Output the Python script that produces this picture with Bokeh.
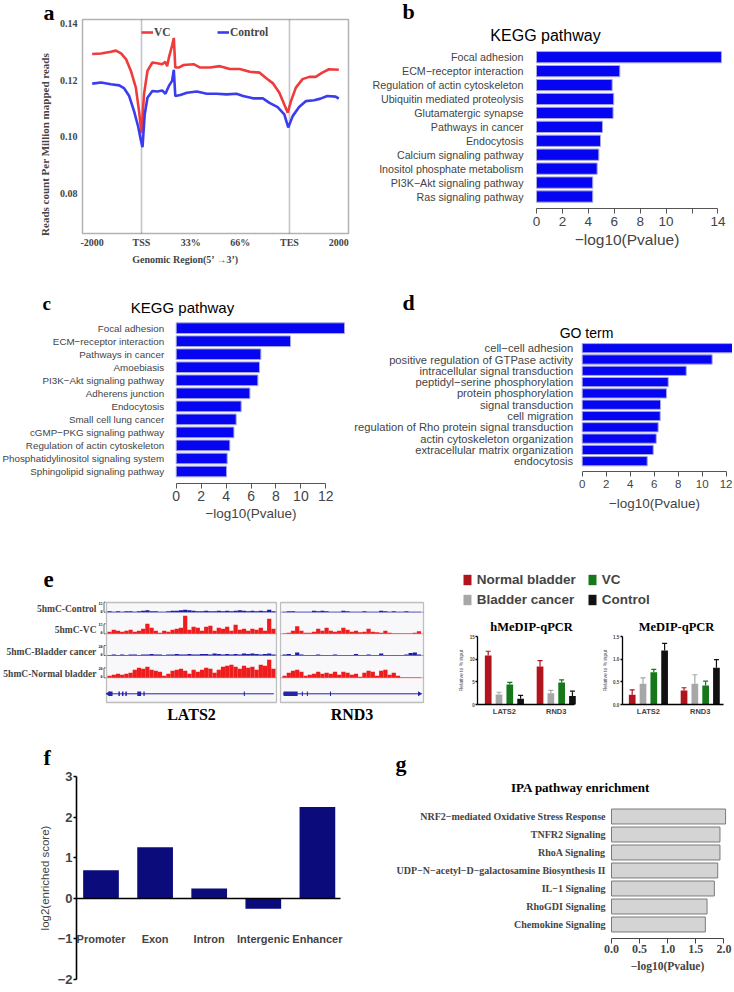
import numpy as np
from bokeh.plotting import figure
from bokeh.models import (Range1d, FixedTicker, Label, Legend, LegendItem, LinearAxis,
                          Whisker, TeeHead, ColumnDataSource, PrintfTickFormatter,
                          BoxAnnotation, Grid)
from bokeh.layouts import row, column
from bokeh.embed import file_html
from bokeh.resources import INLINE

SERIF = "Liberation Serif"
SANS = "Liberation Sans"

# ---------------- data ----------------
# (a) metagene profile
A_TICK_POS = [0, 20, 40, 60, 80, 100]
A_TICK_LABELS = ["-2000", "TSS", "33%", "66%", "TES", "2000"]
A_VC_X = [0, 3.6, 7.6, 9.6, 11.7, 13.7, 15.7, 17.7, 19.0, 20.0, 21.0, 22.4, 24.4, 26.4, 28.4,
          29.7, 30.4, 31.1, 32.4, 33.1, 33.7, 35.1, 37.1, 41.1, 43.8, 47.8, 51.8, 55.8, 59.8,
          63.9, 67.9, 70.6, 73.2, 75.9, 77.9, 79.3, 80.6, 82.6, 85.3, 88.0, 90.6, 93.3, 96.0, 100]
A_VC_Y = [0.1293, 0.1295, 0.1301, 0.1305, 0.1295, 0.1275, 0.1233, 0.1174, 0.1090, 0.1013,
          0.1150, 0.1233, 0.1263, 0.1260, 0.1257, 0.1265, 0.1250, 0.1280, 0.1323, 0.1350,
          0.1245, 0.1245, 0.1254, 0.1257, 0.1245, 0.1245, 0.1250, 0.1240, 0.1240, 0.1230,
          0.1227, 0.1207, 0.1190, 0.1156, 0.1114, 0.1085, 0.1126, 0.1174, 0.1204, 0.1212,
          0.1212, 0.1227, 0.1239, 0.1237]
A_CT_X = [0, 3.6, 7.6, 11.0, 13.0, 15.0, 17.0, 18.6, 19.7, 20.4, 21.3, 22.4, 24.4, 26.4, 28.4,
          29.7, 31.1, 32.4, 33.1, 33.7, 35.7, 38.4, 42.4, 46.5, 50.5, 54.5, 58.5, 61.2, 65.2,
          69.2, 71.9, 75.2, 77.9, 79.5, 81.3, 83.9, 86.6, 90.0, 92.6, 95.3, 98.7, 100]
A_CT_Y = [0.1188, 0.1192, 0.1186, 0.1182, 0.1171, 0.1144, 0.1090, 0.1037, 0.0989, 0.0963,
          0.1079, 0.1138, 0.1162, 0.1160, 0.1164, 0.1152, 0.1180, 0.1198, 0.1237, 0.1144,
          0.1148, 0.1156, 0.1160, 0.1152, 0.1152, 0.1150, 0.1152, 0.1144, 0.1136, 0.1136,
          0.1120, 0.1105, 0.1079, 0.1033, 0.1073, 0.1105, 0.1126, 0.1129, 0.1135, 0.1144,
          0.1142, 0.1135]
A_Y_TICKS = [0.08, 0.10, 0.12, 0.14]

# (b) KEGG
B_TERMS = ["Focal adhesion", "ECM\u2212receptor interaction", "Regulation of actin cytoskeleton",
           "Ubiquitin mediated proteolysis", "Glutamatergic synapse", "Pathways in cancer",
           "Endocytosis", "Calcium signaling pathway", "Inositol phosphate metabolism",
           "PI3K\u2212Akt signaling pathway", "Ras signaling pathway"]
B_VALUES = [14.27, 6.43, 5.84, 5.96, 5.91, 5.09, 4.94, 4.81, 4.68, 4.34, 4.34]
B_TICKS = [0, 2, 4, 6, 8, 10, 12, 14]

# (c) KEGG
C_TERMS = ["Focal adhesion", "ECM\u2212receptor interaction", "Pathways in cancer", "Amoebiasis",
           "PI3K\u2212Akt signaling pathway", "Adherens junction", "Endocytosis",
           "Small cell lung cancer", "cGMP\u2212PKG signaling pathway",
           "Regulation of actin cytoskeleton", "Phosphatidylinositol signaling system",
           "Sphingolipid signaling pathway"]
C_VALUES = [13.5, 9.17, 6.79, 6.68, 6.55, 5.91, 5.21, 4.81, 4.63, 4.30, 4.09, 4.04]
C_TICKS = [0, 2, 4, 6, 8, 10, 12]

# (d) GO
D_TERMS = ["cell\u2212cell adhesion", "positive regulation of GTPase activity",
           "intracellular signal transduction", "peptidyl\u2212serine phosphorylation",
           "protein phosphorylation", "signal transduction", "cell migration",
           "regulation of Rho protein signal transduction", "actin cytoskeleton organization",
           "extracellular matrix organization", "endocytosis"]
D_VALUES = [12.56, 10.83, 8.67, 7.17, 7.03, 6.53, 6.50, 6.33, 6.17, 5.92, 5.42]
D_TICKS = [0, 2, 4, 6, 8, 10, 12]

# (e) 5hmC tracks (signal per bin)
E_TRACK_NAMES = ["5hmC-Control", "5hmC-VC", "5hmC-Bladder cancer", "5hmC-Normal bladder"]
E_TRACK_SCALE = [15, 15, 20, 20]
E_LATS2 = [
    [1.5, 0.75, 1.5, 0.75, 1.5, 1.5, 0.75, 1.5, 2.25, 3, 1.5, 1.5, 0.75, 0.75, 1.5, 2.25, 2.25, 3,
     3.75, 3, 2.25, 1.5, 1.5, 2.25, 1.5, 1.5, 2.25, 1.5, 2.25, 1.5, 2.25, 3, 2.25, 1.5, 2.25, 1.5,
     2.25, 1.5, 3.75, 1.5],
    [3, 6, 4.5, 3, 4.5, 6, 3, 4.5, 7.5, 15, 9, 4.5, 1.5, 4.5, 3, 6, 7.5, 9, 27, 6, 10.5, 9, 4.5,
     10.5, 12, 4.5, 9, 7.5, 10.5, 4.5, 13.5, 6, 7.5, 4.5, 7.5, 6, 9, 4.5, 22.5, 7.5],
    [1, 2, 1, 2, 1, 2, 2, 1, 2, 2, 3, 2, 2, 1, 2, 2, 3, 2, 2, 3, 2, 2, 3, 3, 2, 4, 3, 2, 3, 2, 3,
     2, 4, 3, 4, 3, 2, 3, 4, 2],
    [4, 6, 8, 6, 8, 10, 16, 20, 18, 22, 16, 14, 12, 4, 8, 14, 16, 18, 14, 8, 16, 12, 16, 20, 18,
     10, 16, 22, 24, 26, 22, 18, 24, 20, 22, 16, 26, 24, 36, 18],
]
E_RND3 = [
    [0.75, 1.5, 1.5, 0.75, 0.75, 0.75, 0.75, 2.25, 1.5, 2.25, 1.5, 0.75, 0.75, 0.75, 2.25, 1.5,
     0.75, 0.75, 0.75, 1.5, 0.75, 0.75, 0.75, 2.25, 1.5, 0.75, 1.5, 0.75, 0.75, 1.5, 0.75, 0.75,
     0.75],
    [0.75, 1.5, 4.5, 11.25, 4.5, 1.5, 1.5, 3, 7.5, 4.5, 9, 4.5, 3, 4.5, 9, 6, 3, 4.5, 2.25, 3,
     7.5, 3, 2.25, 1.5, 4.5, 1.5, 0.75, 0.75, 0.75, 0.75, 0.75, 1.5, 3.75],
    [2, 3, 1, 6, 2, 1, 1, 1, 2, 1, 1, 1, 2, 1, 1, 1, 1, 3, 1, 1, 2, 1, 1, 4, 1, 1, 1, 1, 1, 2, 5,
     6, 2],
    [4, 10, 14, 16, 12, 4, 6, 8, 12, 8, 10, 8, 12, 6, 12, 10, 6, 8, 2, 10, 14, 12, 4, 14, 16, 6,
     10, 4, 1, 1, 1, 1, 1],
]
E_LATS2_GENE = (0.2, 39.6)
E_LATS2_EXONS = [(0.24, 1.2), (2.6, 2.95), (3.45, 3.8), (4.25, 4.6), (7.1, 8.0), (8.55, 8.85),
                 (32.45, 32.7)]
E_RND3_GENE = (0.1, 32.6)
E_RND3_EXONS = [(0.24, 3.6), (4.6, 4.85), (5.8, 6.05), (11.3, 11.55)]

# (e) qPCR
Q_GENES = ["LATS2", "RND3"]
Q_GROUPS = ["Normal bladder", "Bladder cancer", "VC", "Control"]
Q_COLORS = ["#b0141c", "#a7a7a7", "#16781a", "#111111"]
HMEDIP_MEAN = [[10.8, 8.4], [2.2, 2.5], [4.4, 4.85], [1.25, 1.85]]
HMEDIP_ERR = [[0.95, 1.3], [0.5, 0.6], [0.5, 0.6], [0.75, 1.1]]
MEDIP_MEAN = [[0.213, 0.31], [0.456, 0.456], [0.713, 0.42], [1.19, 0.81]]
MEDIP_ERR = [[0.11, 0.06], [0.13, 0.2], [0.06, 0.095], [0.16, 0.18]]
HMEDIP_TICKS = [0, 5, 10, 15]
MEDIP_TICKS = [0, 0.5, 1.0, 1.5]

# (f) enrichment
F_REGIONS = ["Promoter", "Exon", "Intron", "Intergenic", "Enhancer"]
F_SCORES = [0.69, 1.26, 0.24, -0.26, 2.25]
F_TICKS = [-2, -1, 0, 1, 2, 3]

# (g) IPA
G_TERMS = ["NRF2\u2212mediated Oxidative Stress Response", "TNFR2 Signaling", "RhoA Signaling",
           "UDP\u2212N\u2212acetyl\u2212D\u2212galactosamine Biosynthesis II", "IL\u22121 Signaling",
           "RhoGDI Signaling", "Chemokine Signaling"]
G_VALUES = [2.03, 1.93, 1.93, 1.89, 1.83, 1.70, 1.67]
G_TICKS = [0, 0.5, 1.0, 1.5, 2.0]


# ---------------- helpers ----------------
class Panel:
    """A figure whose frame fills its canvas; page pixels <-> data through two anchors."""

    def __init__(self, box, xmap, ymap):
        cx0, cy0, cx1, cy1 = box
        self.box = box
        (self.xd0, self.xp0), (xd1, xp1) = xmap
        self.kx = (xp1 - self.xp0) / (xd1 - self.xd0)
        (self.yd0, self.yp0), (yd1, yp1) = ymap
        self.ky = (yp1 - self.yp0) / (yd1 - self.yd0)
        self.p = figure(width=int(round(cx1 - cx0)), height=int(round(cy1 - cy0)),
                        x_range=Range1d(self.x(cx0), self.x(cx1)),
                        y_range=Range1d(self.y(cy1), self.y(cy0)),
                        min_border_left=0, min_border_right=0, min_border_top=0,
                        min_border_bottom=0, x_axis_location=None, y_axis_location=None,
                        toolbar_location=None, output_backend="svg")
        self.p.title.visible = False
        for g in self.p.center:
            if isinstance(g, Grid):
                g.visible = False
        self.p.outline_line_color = None
        self.p.background_fill_color = "white"
        self.p.border_fill_color = "white"

    def x(self, X):
        return self.xd0 + (X - self.xp0) / self.kx

    def y(self, Y):
        return self.yd0 + (Y - self.yp0) / self.ky


def text(P, X, Y, s, size, font=SANS, style="normal", align="left", baseline="middle"):
    P.p.add_layout(Label(x=P.x(X), y=P.y(Y), text=s, text_font=font, text_font_size=size,
                         text_font_style=style, text_align=align, text_baseline=baseline,
                         text_color="black"))


def axis(P, side, loc, ticks, labels=None, fmt=None, font=SANS, size="10px", style="normal",
         bounds=None, line_color="black", line_width=1.0, show_line=True, tick_out=0,
         standoff=2, title=None, title_size="10px", title_style="normal", title_standoff=4,
         range_name=None):
    kw = {}
    if range_name is not None:
        kw["y_range_name"] = range_name
    ax = LinearAxis(fixed_location=loc, ticker=FixedTicker(ticks=ticks), **kw)
    if labels is not None:
        ax.major_label_overrides = {t: l for t, l in zip(ticks, labels)}
    if fmt is not None:
        ax.formatter = PrintfTickFormatter(format=fmt)
    ax.major_label_text_font = font
    ax.major_label_text_font_size = size
    ax.major_label_text_font_style = style
    ax.major_label_standoff = standoff
    ax.minor_tick_line_color = None
    ax.axis_line_color = line_color if show_line else None
    ax.axis_line_width = line_width
    ax.major_tick_line_color = line_color if tick_out > 0 else None
    ax.major_tick_line_width = line_width
    ax.major_tick_out = tick_out
    ax.major_tick_in = 0
    if bounds is not None:
        ax.bounds = bounds
    if title is not None:
        ax.axis_label = title
        ax.axis_label_text_font = font
        ax.axis_label_text_font_size = title_size
        ax.axis_label_text_font_style = title_style
        ax.axis_label_standoff = title_standoff
    P.p.add_layout(ax, side)
    return ax


def bar_panel(box, x0px, pxu, ytop_px, ybot_px, axis_px, terms, vals, ticks, hide, lab_size,
              lab_standoff, tick_size, tick_standoff, axlab_size, axlab_standoff, fill, line,
              bar_h, font=SANS, fstyle="normal", fmt=None, axis_color="#555555"):
    n = len(terms)
    pos = [n - i for i in range(n)]
    P = Panel(box, ((0, x0px), (1, x0px + pxu)), ((n, ytop_px), (1, ybot_px)))
    P.p.hbar(y=pos, left=0, right=vals, height=bar_h, fill_color=fill, line_color=line,
             line_width=1)
    axis(P, "left", 0, pos, labels=terms, font=font, size=lab_size, style=fstyle,
         show_line=False, standoff=lab_standoff)
    labels = [("" if t in hide else (fmt % t if fmt else str(t))) for t in ticks]
    axis(P, "below", P.y(axis_px), ticks, labels=labels, font=font, size=tick_size,
         style=fstyle, bounds=(ticks[0], ticks[-1]), line_color=axis_color, tick_out=5,
         standoff=tick_standoff, title="\u2212log10(Pvalue)", title_size=axlab_size,
         title_style=fstyle, title_standoff=axlab_standoff)
    return P


W = 732  # right edge of the page content

# ---------------- (a) ----------------
PA = Panel((0, 0, 370, 288), ((0, 91.7), (100, 338.3)), ((0.14, 23.3), (0.08, 192.7)))
pa = PA.p
axl, axr, ayt, ayb = PA.x(82), PA.x(348), PA.y(19), PA.y(233)
marks = [A_TICK_POS[A_TICK_LABELS.index(l)] for l in ["TSS", "TES"]]
pa.segment(x0=marks, x1=marks, y0=[ayb] * 2, y1=[ayt] * 2, line_color="#c4c4cc",
           line_width=1.6)
r_vc = pa.line(A_VC_X, A_VC_Y, line_color="#ef3b3b", line_width=2.6)
r_ct = pa.line(A_CT_X, A_CT_Y, line_color="#3b3bef", line_width=2.6)
pa.add_layout(BoxAnnotation(left=axl, right=axr, bottom=ayb, top=ayt, fill_color=None,
                            line_color="black", line_width=1.5))
axis(PA, "below", ayb, A_TICK_POS, labels=A_TICK_LABELS, font=SERIF, size="10px",
     style="bold", show_line=False, standoff=3, title="Genomic Region(5\u2019 \u21923\u2019)",
     title_size="10px", title_style="bold", title_standoff=3)
axis(PA, "left", axl, A_Y_TICKS, fmt="%.2f", font=SERIF, size="10px", style="bold",
     show_line=False, standoff=5, title="Reads count Per Million mapped reads",
     title_size="11px", title_style="bold", title_standoff=6)
pa.add_layout(Legend(items=[LegendItem(label="VC", renderers=[r_vc]),
                            LegendItem(label="Control", renderers=[r_ct])],
                     location=(141, 250), orientation="horizontal", glyph_width=12,
                     glyph_height=12, label_height=12, label_standoff=1, spacing=43, padding=0,
                     margin=0, border_line_color=None, background_fill_alpha=0,
                     label_text_font=SERIF, label_text_font_style="bold",
                     label_text_font_size="11.5px"))
text(PA, 43, 12, "a", "22px", SERIF, "bold")

# ---------------- (b) ----------------
PB = bar_panel((370, 0, W, 288), 536, 12.96, 56.7, 196, 208, B_TERMS, B_VALUES, B_TICKS,
               [12], "10.7px", 13, "13.5px", 3, "15.5px", 2, "#0505f2", "#a8a8dc", 0.81)
text(PB, 545, 35, "KEGG pathway", "16px", SANS, align="center")
text(PB, 402, 11, "b", "22px", SERIF, "bold")

# ---------------- (c) ----------------
PC = bar_panel((0, 288, 350, 548), 175.7, 12.47, 327.7, 471, 482.7, C_TERMS, C_VALUES,
               C_TICKS, [], "9.8px", 12, "14px", 3, "13.5px", 1, "#0505f2", "#a8a8dc", 0.82)
text(PC, 182, 307, "KEGG pathway", "15px", SANS, align="center")
text(PC, 42, 303, "c", "19px", SERIF, "bold")

# ---------------- (d) ----------------
PD = bar_panel((350, 288, W, 548), 581.7, 12.0, 347.7, 460.7, 471, D_TERMS, D_VALUES, D_TICKS,
               [], "11.2px", 9, "11.5px", 3, "13.5px", 5, "#0505f2", "#a8a8dc", 0.82)
text(PD, 586, 332.7, "GO term", "14px", SANS, align="center")
text(PD, 402, 302, "d", "22px", SERIF, "bold")

# ---------------- (e) tracks ----------------
TRACK_BASES_PX = [611.7, 633.3, 655.0, 677.3]
TRACK_COLORS = ["#1c1ca8", "#ee1c1c", "#1c1ca8", "#ee1c1c"]
GENE_PX = 693.3
GENE_COLOR = "#2424a8"


def track_panel(box, x0px, box_l, box_r, tracks, gene, exons, strand, with_labels):
    P = Panel(box, ((0, x0px), (1, x0px + 4.2)), ((0, 702), (100, 602)))
    p = P.p
    xl, xr = P.x(box_l), P.x(box_r)
    p.add_layout(BoxAnnotation(left=xl, right=xr, bottom=P.y(702), top=P.y(602),
                               fill_color="#f8f8fa", fill_alpha=1, line_color=None,
                               level="underlay"))
    bases = [P.y(b) for b in TRACK_BASES_PX]
    for vals, base, col, sc in zip(tracks, bases, TRACK_COLORS, E_TRACK_SCALE):
        v = np.array(vals, dtype=float)
        x = np.arange(len(v)) + 0.5
        p.segment(x0=[xl], x1=[xr], y0=[base], y1=[base], line_color=col, line_width=0.7,
                  line_alpha=0.5)
        p.vbar(x=x, bottom=base, top=base + v * 10.0 / sc, width=1.0, fill_color=col,
               line_color=None)
    gy = P.y(GENE_PX)
    p.segment(x0=[gene[0]], y0=[gy], x1=[gene[1]], y1=[gy], line_color=GENE_COLOR,
              line_width=1)
    p.hbar(y=gy, left=[e[0] for e in exons], right=[e[1] for e in exons], height=4.5,
           fill_color=GENE_COLOR, line_color=None)
    end = gene[0] if strand < 0 else gene[1]
    p.scatter(x=[end], y=[gy], marker="triangle", size=5,
              angle=(np.pi / 2 if strand < 0 else -np.pi / 2), fill_color=GENE_COLOR,
              line_color=None)
    p.add_layout(BoxAnnotation(left=xl, right=xr, bottom=P.y(702), top=P.y(602),
                               fill_color=None, line_color="#333333", line_width=1.3))
    if with_labels:
        axis(P, "left", xl, [b + 3.5 for b in bases], labels=E_TRACK_NAMES, font=SERIF,
             size="9.5px", style="bold", show_line=False, standoff=10)
        # data-range brackets next to each track
        bx = P.x(103.5)
        bx2 = P.x(105.2)
        for base_px, sc in zip(TRACK_BASES_PX, E_TRACK_SCALE):
            b0, b1 = P.y(base_px), P.y(base_px - 10)
            p.segment(x0=[bx, bx, bx], y0=[b0, b1, b0], x1=[bx, bx2, bx2], y1=[b1, b1, b0],
                      line_color="#444444", line_width=0.8)
            text(P, 102, base_px - 9, str(sc), "4px", SERIF, "bold", align="right")
            text(P, 102, base_px - 1, "0", "4px", SERIF, "bold", align="right")
    return P


PE1 = track_panel((0, 548, 278, 740), 107, 106, 276, E_LATS2, E_LATS2_GENE, E_LATS2_EXONS,
                  -1, True)
text(PE1, 191, 714, Q_GENES[0], "16px", SERIF, "bold", align="center")
text(PE1, 43, 579, "e", "23px", SERIF, "bold")
PE2 = track_panel((278, 548, 440, 740), 282, 280, 423, E_RND3, E_RND3_GENE, E_RND3_EXONS, 1,
                  False)
text(PE2, 351.5, 714, Q_GENES[1], "16px", SERIF, "bold", align="center")

# ---------------- (e) qPCR ----------------
PQ = Panel((440, 548, W, 740), ((0, 487.7), (1, 498.5)), ((0, 704), (15, 636)))
pq = PQ.p
med_k = (636 - 704) / 1.5
pq.extra_y_ranges = {"medip": Range1d((740 - 704) / med_k, (548 - 704) / med_k)}
MED_X0 = PQ.x(631.7)
leg_items = []
for chart, (means, errs, x0, rname) in enumerate([(HMEDIP_MEAN, HMEDIP_ERR, 0.0, "default"),
                                                  (MEDIP_MEAN, MEDIP_ERR, MED_X0, "medip")]):
    for si, (g, c) in enumerate(zip(Q_GROUPS, Q_COLORS)):
        xs = [x0 + gi * 4.8 + si for gi in range(len(Q_GENES))]
        src = ColumnDataSource(dict(x=xs, lo=means[si],
                                    hi=[m + e for m, e in zip(means[si], errs[si])]))
        r = pq.vbar(x="x", top="lo", width=0.62, source=src, fill_color=c, line_color=None,
                    y_range_name=rname)
        pq.add_layout(Whisker(source=src, base="x", lower="lo", upper="hi",
                              dimension="height", line_color=c, line_width=1.2,
                              lower_head=None, y_range_name=rname,
                              upper_head=TeeHead(size=5, line_color=c, line_width=1.2)))
        if chart == 0:
            leg_items.append(LegendItem(label=g, renderers=[r]))
    gt = [x0 + gi * 4.8 + 1.5 for gi in range(len(Q_GENES))]
    if chart == 0:
        bx = (PQ.x(477.3), PQ.x(574))
    else:
        bx = (PQ.x(621.7), PQ.x(723))
    axis(PQ, "below", 0, gt, labels=Q_GENES, font=SANS, size="7.5px", style="bold",
         bounds=bx, line_width=1.4, standoff=2)
    if chart == 0:
        axis(PQ, "left", bx[0], HMEDIP_TICKS, fmt="%d", font=SANS, size="4.5px", style="bold",
             bounds=(0, 15), line_width=1.3, tick_out=2, standoff=1,
             title="Relative to % input", title_size="5px", title_standoff=2)
    else:
        axis(PQ, "left", bx[0], MEDIP_TICKS, fmt="%.1f", font=SANS, size="4.5px",
             style="bold", bounds=(0, 1.5), line_width=1.3, tick_out=2, standoff=1,
             title="Relative to % input", title_size="5px", title_standoff=2,
             range_name="medip")
text(PQ, 531, 626.7, "hMeDIP-qPCR", "12.5px", SERIF, "bold", align="center")
text(PQ, 676, 626.7, "MeDIP-qPCR", "12.5px", SERIF, "bold", align="center")
pq.add_layout(Legend(items=leg_items, location=(21.7, 133),
                     orientation="vertical", ncols=2, glyph_width=10, glyph_height=13,
                     label_height=16, label_width=106, label_standoff=5, spacing=4,
                     padding=0, margin=0, border_line_color=None, background_fill_alpha=0,
                     label_text_font=SANS, label_text_font_style="bold",
                     label_text_font_size="13.5px"))

# ---------------- (f) ----------------
PF = Panel((0, 740, 375, 990), ((0, 100.5), (1, 154.6)), ((3, 776), (-2, 979)))
pf = PF.p
fx = list(range(len(F_REGIONS)))
pf.vbar(x=fx, top=F_SCORES, width=0.66, fill_color="#0b0b7c", line_color=None)
fxl, fxr = PF.x(76), PF.x(340)
axis(PF, "below", 0, fx, labels=F_REGIONS, font=SANS, size="11px", style="bold",
     bounds=(fxl, fxr), line_width=1.6, standoff=35)
axis(PF, "left", fxl, F_TICKS, font=SANS, size="13px", style="bold", bounds=(-2, 3),
     line_width=1.6, tick_out=3, standoff=1, title="log2(enriched score)",
     title_size="11.5px", title_standoff=4)
text(PF, 43, 757, "f", "22px", SERIF, "bold")

# ---------------- (g) ----------------
PG = bar_panel((375, 740, W, 990), 611, 56.2, 816, 924, 938.3, G_TERMS, G_VALUES, G_TICKS,
               [], "10px", 6, "12px", 1, "11.5px", 4, "#d4d4d4", "#7a7a7a", 0.83, font=SERIF,
               fstyle="bold", fmt="%.1f", axis_color="#444444")
text(PG, 580, 786.7, "IPA pathway enrichment", "13px", SERIF, "bold", align="center")
text(PG, 395, 763, "g", "22px", SERIF, "bold")

layout = column(row(PA.p, PB.p), row(PC.p, PD.p), row(PE1.p, PE2.p, PQ.p), row(PF.p, PG.p))

open("out.html", "w", encoding="utf-8").write(file_html(layout, INLINE))
